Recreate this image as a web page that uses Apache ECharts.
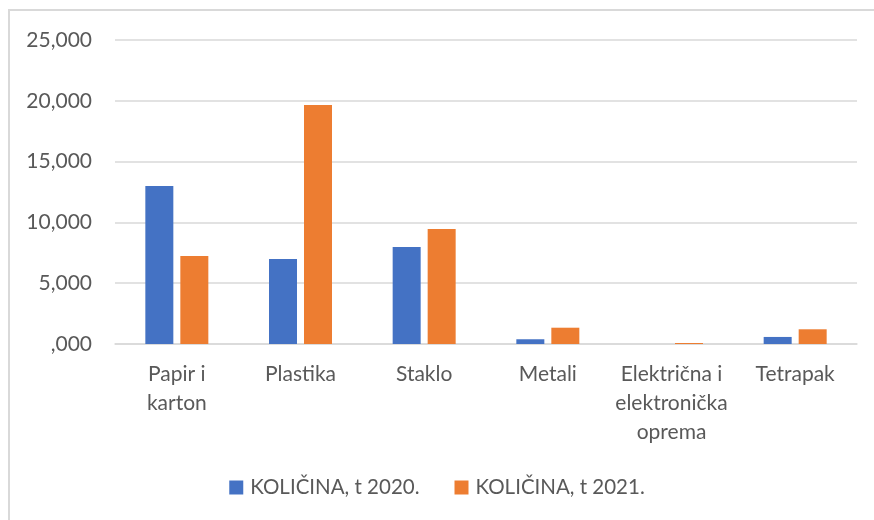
<!DOCTYPE html>
<html>
<head>
<meta charset="utf-8">
<script src="https://cdn.jsdelivr.net/npm/echarts@6/dist/echarts.min.js"></script>
<style>
html,body{margin:0;padding:0;background:#fff;}
#c{width:874px;height:520px;}
</style>
</head>
<body>
<div id="c"></div>
<script>
var categories = ["Papir i\nkarton", "Plastika", "Staklo", "Metali", "Električna i\nelektronička\noprema", "Tetrapak"];
var seriesNames = ["KOLIČINA, t 2020.", "KOLIČINA, t 2021."];
var values2020 = [12990, 6990, 7980, 390, 0, 580];
var values2021 = [7240, 19650, 9460, 1340, 80, 1210];
var yTickValues = [0, 5000, 10000, 15000, 20000, 25000];
var yTickLabels = [",000", "5,000", "10,000", "15,000", "20,000", "25,000"];

var chart = echarts.init(document.getElementById('c'), null, {renderer: 'canvas'});
var FONT = 'Lato';
var TXT = '#595959';
chart.setOption({
  animation: false,
  textStyle: {fontFamily: FONT},
  graphic: [{
    type: 'rect',
    shape: {x: 9, y: 10, width: 900, height: 600},
    style: {fill: 'none', stroke: '#d9d9d9', lineWidth: 2},
    silent: true,
    z: -1
  }],
  grid: {left: 115, right: 17, top: 40, bottom: 176, containLabel: false},
  legend: {
    bottom: 17,
    left: 'center',
    itemWidth: 14,
    itemHeight: 14,
    itemGap: 35,
    icon: 'rect',
    textStyle: {fontFamily: FONT, fontSize: 20.5, color: TXT, padding: [0, 0, 0, 2]},
    data: seriesNames
  },
  xAxis: {
    type: 'category',
    data: categories,
    axisLine: {show: true, lineStyle: {color: '#d9d9d9', width: 1.5}},
    axisTick: {show: false},
    axisLabel: {fontFamily: FONT, fontSize: 21, color: TXT, margin: 16, lineHeight: 29, interval: 0}
  },
  yAxis: {
    type: 'value',
    min: 0,
    max: 25000,
    interval: 5000,
    axisLine: {show: false},
    axisTick: {show: false},
    splitLine: {lineStyle: {color: '#d9d9d9', width: 1.5}},
    axisLabel: {
      fontFamily: FONT, fontSize: 21, color: TXT, margin: 23,
      formatter: function (v) {
        var i = yTickValues.indexOf(v);
        return i >= 0 ? yTickLabels[i] : '';
      }
    }
  },
  series: [
    {name: seriesNames[0], type: 'bar', data: values2020, barWidth: 28, barGap: '25%',
     itemStyle: {color: '#4472C4'}},
    {name: seriesNames[1], type: 'bar', data: values2021, barWidth: 28, barGap: '25%',
     itemStyle: {color: '#ED7D31'}}
  ]
});
</script>
</body>
</html>
